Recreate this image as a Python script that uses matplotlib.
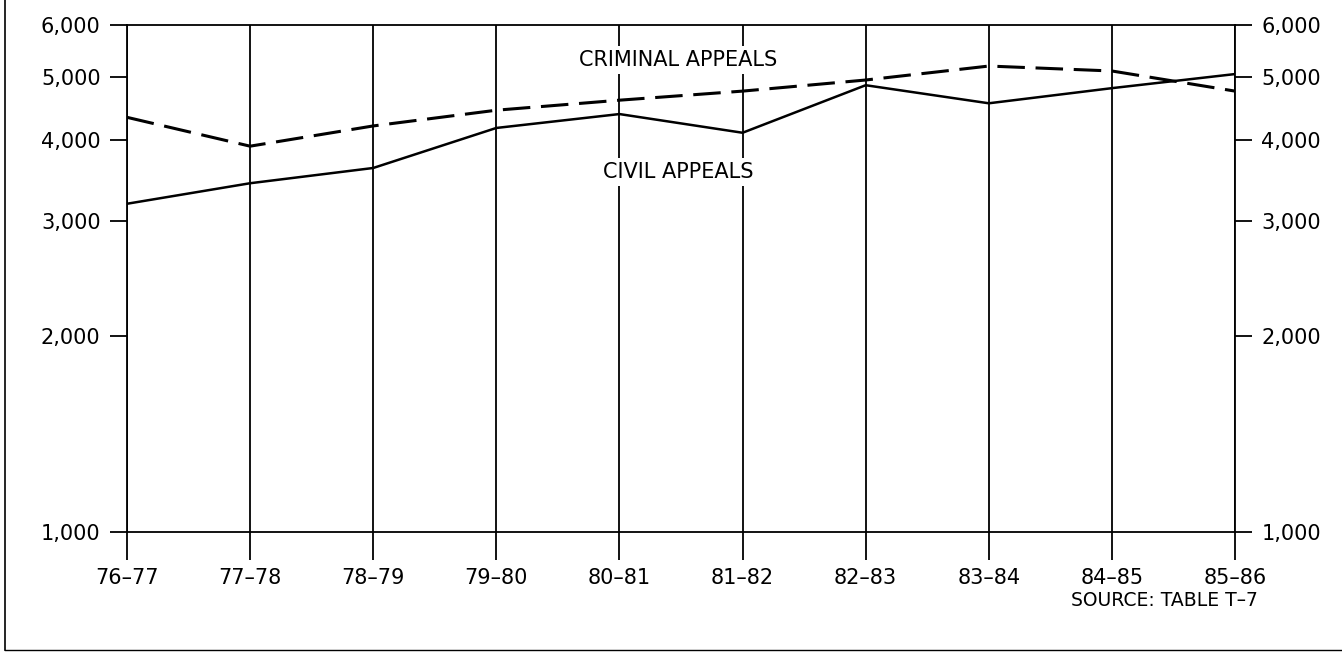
import matplotlib.pyplot as plt
import matplotlib.ticker as mticker
from matplotlib.lines import Line2D

# fiscal years on the x axis
years = ['76–77', '77–78', '78–79', '79–80', '80–81',
         '81–82', '82–83', '83–84', '84–85', '85–86']
criminal = [4330, 3910, 4200, 4440, 4600, 4750, 4940, 5190, 5100, 4750]
civil = [3190, 3430, 3620, 4170, 4380, 4100, 4850, 4550, 4800, 5045]
y_ticks = [1000, 2000, 3000, 4000, 5000, 6000]

fig = plt.figure(figsize=(13.42, 6.53), dpi=100)
ax = fig.add_axes([0.0946, 0.1853, 0.8257, 0.7764])

x = list(range(len(years)))
ax.plot(x, civil, color='black', lw=1.8, solid_joinstyle='miter')
ax.plot(x, criminal, color='black', lw=2.2, dashes=(9, 3.5))

ax.set_yscale('log')
ax.set_ylim(1000, 6000)
ax.set_xlim(0, len(years) - 1)
ax.yaxis.set_major_locator(mticker.FixedLocator(y_ticks))
ax.yaxis.set_major_formatter(mticker.FuncFormatter(lambda v, p: f'{int(v):,}'))
ax.yaxis.set_minor_locator(mticker.NullLocator())
ax.set_xticks(x)
ax.set_xticklabels(years)

ax.grid(axis='x', color='black', lw=1.3)
ax.tick_params(axis='x', direction='out', length=20, width=1.3, pad=6, labelsize=15)
ax.tick_params(axis='y', direction='out', length=12, width=1.3, pad=7, labelsize=15,
               left=True, right=True, labelleft=True, labelright=True)
for s in ax.spines.values():
    s.set_linewidth(1.3)

box = dict(facecolor='white', edgecolor='none', pad=3)
ax.text(4.48, 5300, 'CRIMINAL APPEALS', ha='center', va='center', fontsize=15, bbox=box)
ax.text(4.48, 3570, 'CIVIL APPEALS', ha='center', va='center', fontsize=15, bbox=box)

fig.text(0.9375, 0.081, 'SOURCE: TABLE T–7', ha='right', va='center', fontsize=13.5)

# frame lines on the left and bottom of the page
fig.add_artist(Line2D([0.004, 0.004], [0.005, 1.0], color='black', lw=1.2))
fig.add_artist(Line2D([0.004, 1.0], [0.005, 0.005], color='black', lw=1.0))

plt.savefig('out.png', dpi=100)
